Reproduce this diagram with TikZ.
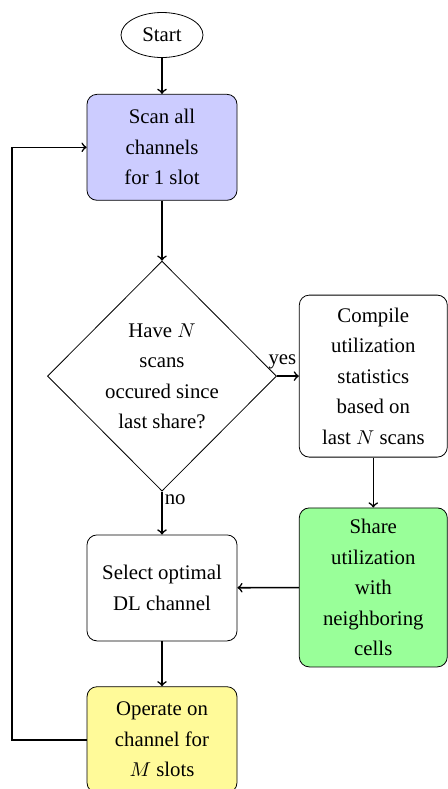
\documentclass[tikz,border=0pt]{standalone}
\usepackage{amsmath}
\usepackage{fontspec}
\setmainfont{Liberation Serif}
\usepackage{tikz}
\usetikzlibrary{positioning,shapes.geometric}
\tikzset{
  % Base styles
  chart base/.style={
    every node/.style={font=\fontsize{10.4pt}{15.25pt}\selectfont},
    node distance=20pt,
  },
  % Flowchart nodes
  start node/.style={ellipse, draw, minimum width=41pt, minimum height=22.5pt, inner sep=1pt},
  step box/.style={rectangle, draw, rounded corners=5pt, align=center, minimum width=75pt, minimum height=53pt, inner sep=2pt},
  test node/.style={diamond, draw, aspect=1, align=center, minimum width=114.5pt, minimum height=115pt, inner sep=0pt},
  % Connectors
  flow arrow/.style={->, thick},
  flow label/.style={inner sep=1pt},
}

\begin{document}
\begin{tikzpicture}[chart base]
  \useasboundingbox (0,0) rectangle (223.5pt,-394.5pt);
  \node[start node] (start) at (81pt,-17.5pt) {Start};
  \node[step box, fill=blue!20, below=18pt of start] (scan) {Scan all\\ channels\\ for 1 slot};
  \node[test node, below=30pt of scan] (check) {Have $N$\\ scans\\ occured since\\ last share?};
  \node[step box, right=11pt of check, minimum width=74pt, minimum height=81pt] (compile) {Compile\\ utilization\\ statistics\\ based on\\ last $N$ scans};
  \node[step box, fill=green!40, below=25pt of compile, minimum width=74pt, minimum height=79.5pt] (share) {Share\\ utilization\\ with\\ neighboring\\ cells};
  \node[step box, below=21.5pt of check] (select) {Select optimal\\ DL channel};
  \node[step box, fill=yellow!40, below=22.5pt of select] (operate) {Operate on\\ channel for\\ $M$ slots};
  \coordinate (back) at (6pt,0);
  \draw[flow arrow] (start) -- (scan);
  \draw[flow arrow] (scan) -- (check);
  \draw[flow arrow] (check.east) -- node[flow label, above, pos=0.25, yshift=2pt] {yes} (compile);
  \draw[flow arrow] (check.south) -- node[flow label, right, pos=0.2] {no} (select);
  \draw[flow arrow] (compile) -- (share);
  \draw[flow arrow] (share) -- (select);
  \draw[flow arrow] (select) -- (operate);
  \draw[flow arrow] (operate.west) -- (operate.west -| back) |- (scan.west);
\end{tikzpicture}
\end{document}
